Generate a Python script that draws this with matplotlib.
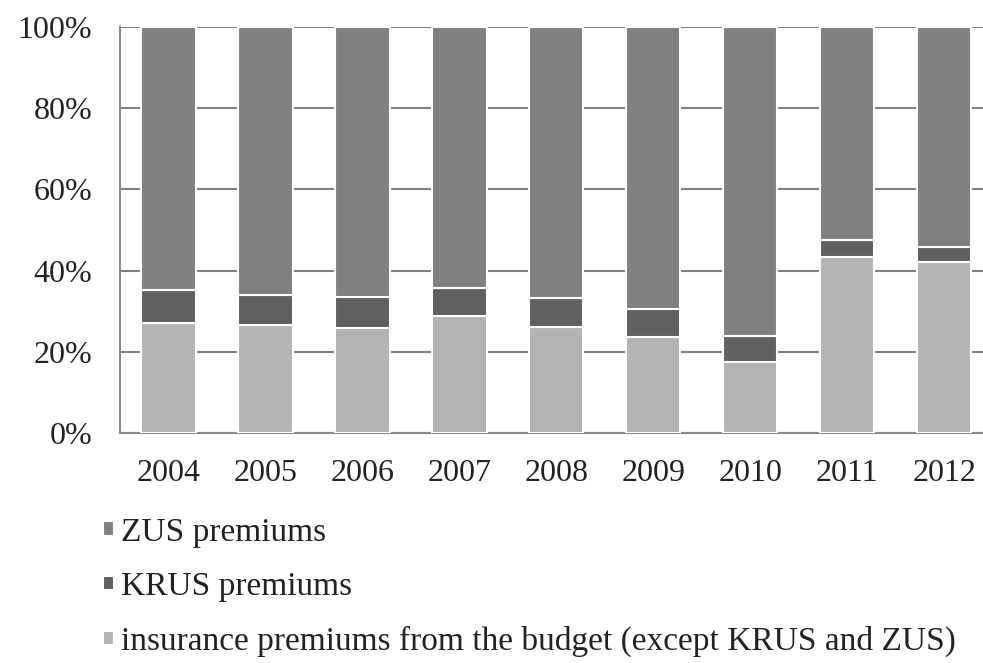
import matplotlib
matplotlib.use("Agg")
import matplotlib.pyplot as plt
import numpy as np
from matplotlib.ticker import FuncFormatter

years = ["2004", "2005", "2006", "2007", "2008", "2009", "2010", "2011", "2012"]
budget = [27.2, 26.6, 25.9, 28.9, 26.1, 23.6, 17.4, 43.4, 42.0]
krus = [7.9, 7.4, 7.7, 6.7, 7.1, 7.0, 6.4, 4.2, 3.7]
zus = [100 - b - k for b, k in zip(budget, krus)]

labels = ["ZUS premiums", "KRUS premiums",
          "insurance premiums from the budget (except KRUS and ZUS)"]
colors = {"zus": "#808080", "krus": "#606060", "budget": "#b3b3b3"}

plt.rcParams['font.family'] = ['Liberation Serif', 'DejaVu Serif']

W, H = 983, 663
FS = 23
fig = plt.figure(figsize=(W / 100, H / 100), dpi=100)
ax = fig.add_axes([120 / W, (H - 433) / H, (983 - 120) / W, 406 / H])

x = np.arange(len(years))
bw = 0.56
b1 = ax.bar(x + 0.02, budget, bw, color=colors["budget"], edgecolor="white", linewidth=1.5, zorder=3)
b2 = ax.bar(x + 0.02, krus, bw, bottom=budget, color=colors["krus"], edgecolor="white", linewidth=1.5, zorder=3)
bottom2 = [b + k for b, k in zip(budget, krus)]
b3 = ax.bar(x + 0.02, zus, bw, bottom=bottom2, color=colors["zus"], edgecolor="white", linewidth=1.5, zorder=3)

ax.set_xlim(-0.48, 8.42)
ax.set_ylim(0, 100)
ax.set_yticks([0, 20, 40, 60, 80, 100])
ax.yaxis.set_major_formatter(FuncFormatter(lambda v, p: f"{int(v)}%"))
ax.set_xticks(x + 0.02)
ax.set_xticklabels(years)
ax.tick_params(axis="both", length=0, labelsize=FS, colors="#222222")
ax.tick_params(axis="x", pad=19)
ax.tick_params(axis="y", pad=20)
ax.yaxis.grid(True, color="#808080", linewidth=1.5, zorder=0)
ax.set_axisbelow(True)
for s in ["top", "right"]:
    ax.spines[s].set_visible(False)
for s in ["left", "bottom"]:
    ax.spines[s].set_color("#8a8a8a")
    ax.spines[s].set_linewidth(1.5)

leg = fig.legend([b3, b2, b1], labels, loc="upper left",
                 bbox_to_anchor=(103 / W, (H - 517) / H), frameon=False,
                 fontsize=24, handlelength=0.32, handleheight=0.3,
                 handletextpad=0.22, labelspacing=0.72, borderaxespad=0,
                 borderpad=0)
for t in leg.get_texts():
    t.set_color("#222222")

fig.savefig("out.png", dpi=100)
